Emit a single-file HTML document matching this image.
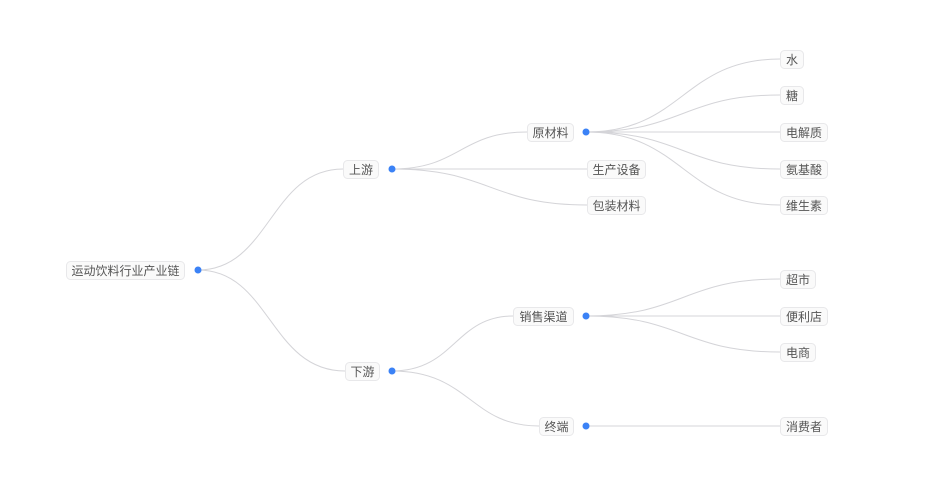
<!DOCTYPE html>
<html><head><meta charset="utf-8"><style>
html,body{margin:0;padding:0;background:#fff;}
text{font-family:"Liberation Sans","Noto Sans CJK SC",sans-serif;font-size:12px;fill:#555;}
</style></head><body>
<svg width="932" height="484" xmlns="http://www.w3.org/2000/svg">
<g fill="none" stroke="#d4d4d8" stroke-width="1">
<path d="M198,270 C270,270 270,169 343,169"/>
<path d="M198,270 C270,270 270,371 345,371"/>
<path d="M392,169 C460,169 460,132 527,132"/>
<path d="M392,169 L587,169"/>
<path d="M392,169 C490,169 490,205 587,205"/>
<path d="M392,371 C455,371 455,316 513,316"/>
<path d="M392,371 C470,371 470,426 539,426"/>
<path d="M586,132 C683,132 683,59 780,59"/>
<path d="M586,132 C683,132 683,95 780,95"/>
<path d="M586,132 L780,132"/>
<path d="M586,132 C683,132 683,169 780,169"/>
<path d="M586,132 C683,132 683,205 780,205"/>
<path d="M586,316 C683,316 683,279 780,279"/>
<path d="M586,316 L780,316"/>
<path d="M586,316 C683,316 683,352 780,352"/>
<path d="M586,426 L780,426"/>
</g>
<g fill="#fafafa" stroke="#e8e8ea" stroke-width="1">
<rect x="66.5" y="261.5" width="118" height="18" rx="4"/>
<rect x="343.5" y="160.5" width="35" height="18" rx="4"/>
<rect x="345.5" y="362.5" width="34" height="18" rx="4"/>
<rect x="527.5" y="123.5" width="46" height="18" rx="4"/>
<rect x="587.5" y="160.5" width="58" height="18" rx="4"/>
<rect x="587.5" y="196.5" width="58" height="18" rx="4"/>
<rect x="513.5" y="307.5" width="60" height="18" rx="4"/>
<rect x="539.5" y="417.5" width="34" height="18" rx="4"/>
<rect x="780.5" y="50.5" width="23" height="18" rx="4"/>
<rect x="780.5" y="86.5" width="23" height="18" rx="4"/>
<rect x="780.5" y="123.5" width="47" height="18" rx="4"/>
<rect x="780.5" y="160.5" width="47" height="18" rx="4"/>
<rect x="780.5" y="196.5" width="47" height="18" rx="4"/>
<rect x="780.5" y="270.5" width="35" height="18" rx="4"/>
<rect x="780.5" y="307.5" width="47" height="18" rx="4"/>
<rect x="780.5" y="343.5" width="35" height="18" rx="4"/>
<rect x="780.5" y="417.5" width="47" height="18" rx="4"/>
</g>
<g text-anchor="middle">
<text x="125.5" y="275">运动饮料行业产业链</text>
<text x="361" y="174">上游</text>
<text x="362.5" y="376">下游</text>
<text x="550.5" y="137">原材料</text>
<text x="616.5" y="174">生产设备</text>
<text x="616.5" y="210">包装材料</text>
<text x="543.5" y="321">销售渠道</text>
<text x="556.5" y="431">终端</text>
<text x="792" y="64">水</text>
<text x="792" y="100">糖</text>
<text x="804" y="137">电解质</text>
<text x="804" y="174">氨基酸</text>
<text x="804" y="210">维生素</text>
<text x="798" y="284">超市</text>
<text x="804" y="321">便利店</text>
<text x="798" y="357">电商</text>
<text x="804" y="431">消费者</text>
</g>
<g fill="#3b82f6">
<circle cx="198" cy="270" r="3.5"/>
<circle cx="392" cy="169" r="3.5"/>
<circle cx="392" cy="371" r="3.5"/>
<circle cx="586" cy="132" r="3.5"/>
<circle cx="586" cy="316" r="3.5"/>
<circle cx="586" cy="426" r="3.5"/>
</g>
</svg>
</body></html>
